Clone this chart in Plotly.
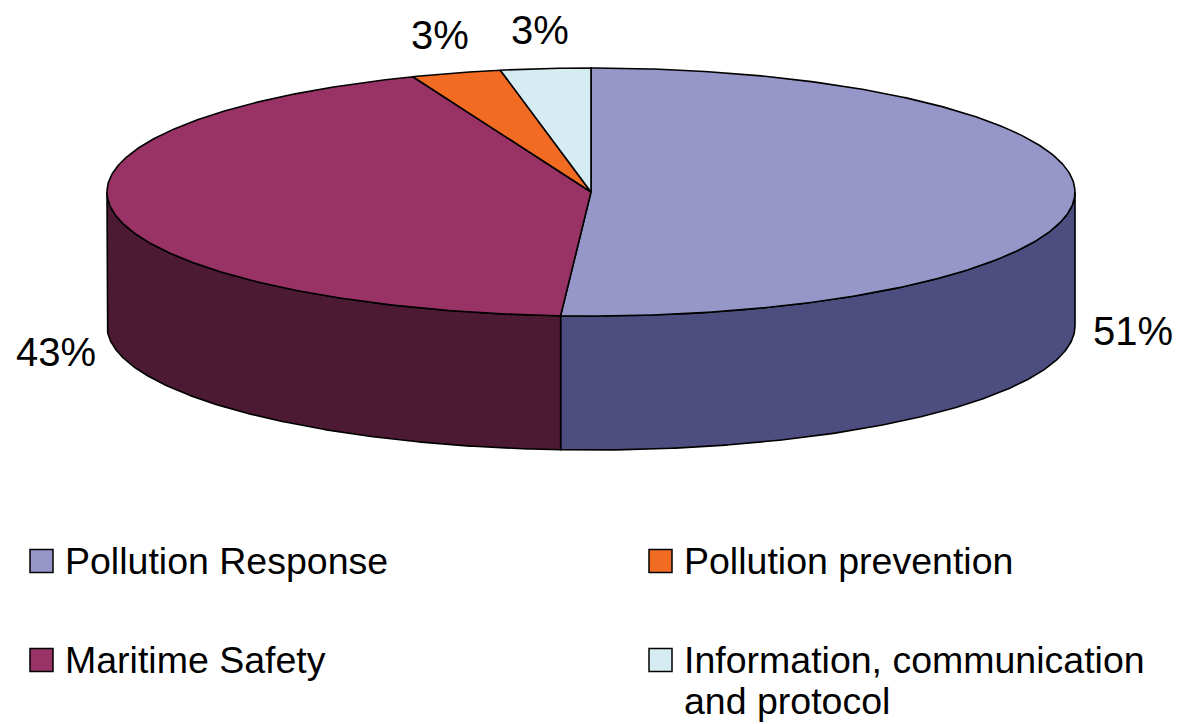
import numpy as np
import plotly.graph_objects as go

# Share of activities by field
categories = ["Pollution Response", "Maritime Safety", "Pollution prevention",
              "Information, communication and protocol"]
legend_lines = [["Pollution Response"], ["Maritime Safety"],
                ["Pollution prevention"],
                ["Information, communication", "and protocol"]]
values = [51, 43, 3, 3]
value_labels = ["51%", "43%", "3%", "3%"]

top_colors = ["#9696C8", "#993366", "#F26B22", "#D5ECF2"]
side_colors = ["#4D4D80", "#4D1A33", "#8A3A10", "#7A8E94"]

W, H = 1186, 724
# ellipse geometry of the tilted pie (pixel units)
CX, CY, RX, RY, DEPTH = 591, 192, 484, 124, 134
LINE = dict(color="black", width=1.6)


def pt(theta_deg, dy=0.0, rx=RX, ry=RY):
    t = np.radians(theta_deg)
    return CX + rx * np.sin(t), CY - ry * np.cos(t) + dy


fig = go.Figure()

total = float(sum(values))
starts, ends = [], []
acc = 0.0
for v in values:
    starts.append(acc / total * 360.0)
    acc += v
    ends.append(acc / total * 360.0)

# front walls (visible between 90 and 270 degrees, clockwise from top)
for a0, a1, col in zip(starts, ends, side_colors):
    lo, hi = max(a0, 90.0), min(a1, 270.0)
    if hi <= lo:
        continue
    th = np.linspace(lo, hi, 200)
    xt, yt = pt(th)
    xb, yb = pt(th[::-1], dy=DEPTH)
    xs = np.concatenate([xt, xb, xt[:1]])
    ys = np.concatenate([yt, yb, yt[:1]])
    fig.add_trace(go.Scatter(x=xs, y=ys, mode="lines", fill="toself",
                             fillcolor=col, line=LINE, hoverinfo="skip",
                             showlegend=False))

# top faces
for a0, a1, col, name in zip(starts, ends, top_colors, categories):
    n = max(int((a1 - a0) * 2), 8)
    th = np.linspace(a0, a1, n)
    xa, ya = pt(th)
    xs = np.concatenate([[CX], xa, [CX]])
    ys = np.concatenate([[CY], ya, [CY]])
    fig.add_trace(go.Scatter(x=xs, y=ys, mode="lines", fill="toself",
                             fillcolor=col, line=LINE, name=name,
                             hoverinfo="name", showlegend=False))

# percentage labels placed just outside the rim
FONT = "Liberation Sans, Arial, sans-serif"
for a0, a1, lab in zip(starts, ends, value_labels):
    mid = (a0 + a1) / 2.0
    dy = DEPTH if np.cos(np.radians(mid)) < 0 else 0.0
    lx, ly = pt(mid, dy=dy, rx=RX + 58, ry=RY + 39)
    fig.add_annotation(x=lx, y=ly, text=lab, showarrow=False,
                       xanchor="center", yanchor="middle",
                       font=dict(family=FONT, size=40, color="black"))

# legend: two columns, column-major order
leg_x = [30, 649]
leg_y = [561, 660]
LINE_GAP = 41
for i, (lines, col) in enumerate(zip(legend_lines, top_colors)):
    c, r = divmod(i, 2)
    x0, y0 = leg_x[c], leg_y[r]
    fig.add_shape(type="rect", xref="x", yref="y",
                  x0=x0, x1=x0 + 23, y0=y0 - 11.5, y1=y0 + 11.5,
                  fillcolor=col, line=dict(color="black", width=1.5))
    for k, txt in enumerate(lines):
        fig.add_annotation(x=x0 + 34, y=y0 + k * LINE_GAP, text=txt,
                           showarrow=False, xanchor="left", yanchor="middle",
                           align="left", borderpad=0,
                           font=dict(family=FONT, size=37.5, color="black"))

fig.update_xaxes(range=[0, W], visible=False, fixedrange=True)
fig.update_yaxes(range=[H, 0], visible=False, fixedrange=True)
fig.update_layout(width=W, height=H, margin=dict(l=0, r=0, t=0, b=0),
                  paper_bgcolor="white", plot_bgcolor="white",
                  showlegend=False)

fig.write_html("out.html")
